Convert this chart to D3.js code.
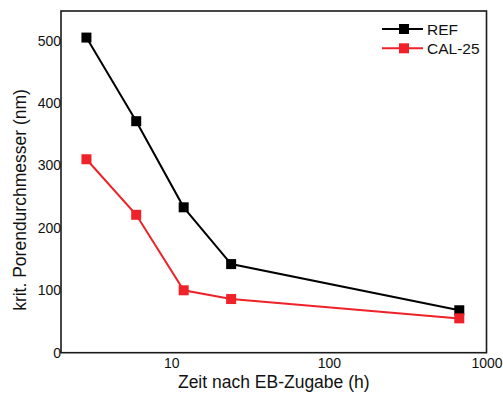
<!DOCTYPE html>
<html>
<head>
<meta charset="utf-8">
<script src="https://cdn.jsdelivr.net/npm/d3@7"></script>
<style>
  html, body { margin: 0; padding: 0; background: #fff; }
  svg { display: block; font-family: "Liberation Sans", Arial, sans-serif; }
</style>
</head>
<body>
<svg id="chart" width="503" height="396"></svg>
<script>
// Time after EB addition (hours)
const hours = [2.9, 6, 12, 24, 672];
// Critical pore diameter (nm)
const refValues = [505, 371, 233, 142, 68];
const cal25Values = [310, 221, 100, 86, 55];
const seriesNames = ["REF", "CAL-25"];
const xTickValues = [10, 100, 1000];
const yTickValues = [0, 100, 200, 300, 400, 500];

const colors = { "REF": "#000000", "CAL-25": "#ee2228" };

const svg = d3.select("#chart");
const plotLeft = 61, plotRight = 486.5, plotTop = 11, plotBottom = 352.7;

const x = d3.scaleLog().domain([2, 1000]).range([plotLeft, plotRight]);
const y = d3.scaleLinear().domain([0, 550]).range([plotBottom, plotBottom - 550 * 0.624]);

// frame
svg.append("rect")
  .attr("x", plotLeft).attr("y", plotTop)
  .attr("width", plotRight - plotLeft).attr("height", plotBottom - plotTop)
  .attr("fill", "none").attr("stroke", "#1a1a1a").attr("stroke-width", 1.6);

// x axis labels (no tick marks)
const xAxis = d3.axisBottom(x).tickValues(xTickValues).tickSize(0).tickPadding(5)
  .tickFormat(d3.format("d"));
const gx = svg.append("g").attr("transform", `translate(0,${plotBottom})`).call(xAxis);
gx.select(".domain").remove();
gx.selectAll("text").attr("font-size", 14).attr("font-family", "Liberation Sans, Arial, sans-serif").attr("fill", "#111");

// y axis labels
const yAxis = d3.axisLeft(y).tickValues(yTickValues).tickSize(0).tickPadding(0);
const gy = svg.append("g").attr("transform", `translate(${plotLeft},0)`).call(yAxis);
gy.select(".domain").remove();
gy.selectAll("text").attr("font-size", 14).attr("font-family", "Liberation Sans, Arial, sans-serif").attr("fill", "#111");

// axis titles
svg.append("text")
  .attr("x", (plotLeft + plotRight) / 2).attr("y", 388)
  .attr("text-anchor", "middle").attr("font-size", 17.5).attr("fill", "#111")
  .text("Zeit nach EB-Zugabe (h)");

svg.append("text")
  .attr("transform", "translate(26,200) rotate(-90)")
  .attr("text-anchor", "middle").attr("font-size", 17.5).attr("fill", "#111")
  .text("krit. Porendurchmesser (nm)");

const series = [
  { name: "REF", values: refValues },
  { name: "CAL-25", values: cal25Values }
];

const line = d3.line().x(d => x(d.h)).y(d => y(d.v));
const ms = 10;

series.forEach(s => {
  const pts = hours.map((h, i) => ({ h, v: s.values[i] }));
  svg.append("path").datum(pts)
    .attr("d", line).attr("fill", "none")
    .attr("stroke", colors[s.name]).attr("stroke-width", 2);
  svg.selectAll(null).data(pts).enter().append("rect")
    .attr("x", d => x(d.h) - ms / 2).attr("y", d => y(d.v) - ms / 2)
    .attr("width", ms).attr("height", ms)
    .attr("fill", colors[s.name]);
});

// legend
const legend = svg.append("g");
seriesNames.forEach((name, i) => {
  const cy = 29 + i * 19.3;
  legend.append("line").attr("x1", 382).attr("x2", 423).attr("y1", cy).attr("y2", cy)
    .attr("stroke", colors[name]).attr("stroke-width", 2);
  legend.append("rect").attr("x", 404 - 5).attr("y", cy - 5).attr("width", 10).attr("height", 10)
    .attr("fill", colors[name]);
  legend.append("text").attr("x", 427).attr("y", cy).attr("dy", "0.36em")
    .attr("font-size", 15.5).attr("fill", "#111").text(name);
});
</script>
</body>
</html>
